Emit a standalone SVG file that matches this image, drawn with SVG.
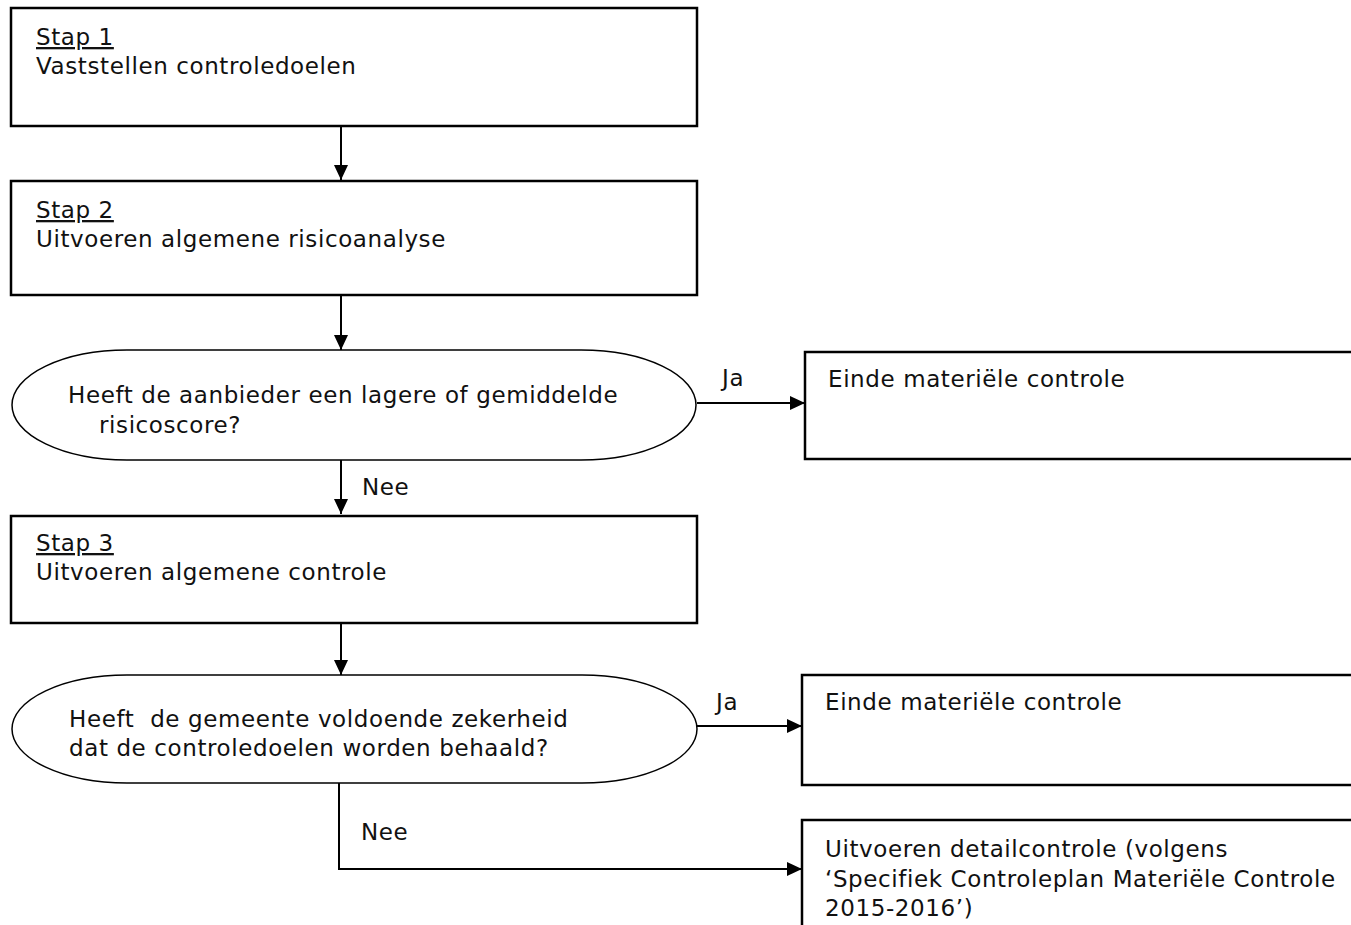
<svg xmlns="http://www.w3.org/2000/svg" width="1351" height="925" viewBox="0 0 1351 925">
<defs>
<style>
.box{fill:#fff;stroke:#000;stroke-width:2.5}
.t{font-family:"DejaVu Sans","Liberation Sans",sans-serif;font-size:23px;fill:#111;letter-spacing:0.6px}
.u{text-decoration:underline}
.c{fill:none;stroke:#000;stroke-width:2}
</style>
<marker id="ah" markerUnits="userSpaceOnUse" markerWidth="16" markerHeight="16" viewBox="0 0 16 16" refX="15" refY="8" orient="auto">
<path d="M0,1 L15,8 L0,15 Z" fill="#000"/>
</marker>
</defs>
<rect width="1351" height="925" fill="#fff"/>
<g id="connectors">
<line class="c" x1="341" y1="126" x2="341" y2="180" marker-end="url(#ah)"/>
<line class="c" x1="341" y1="295" x2="341" y2="350" marker-end="url(#ah)"/>
<line class="c" x1="697" y1="403" x2="805" y2="403" marker-end="url(#ah)"/>
<line class="c" x1="341" y1="460" x2="341" y2="514" marker-end="url(#ah)"/>
<line class="c" x1="341" y1="623" x2="341" y2="675" marker-end="url(#ah)"/>
<line class="c" x1="697" y1="726" x2="802" y2="726" marker-end="url(#ah)"/>
<polyline class="c" points="339,783 339,869 802,869" marker-end="url(#ah)"/>
<text class="t" x="722" y="386">Ja</text>
<text class="t" x="362" y="495">Nee</text>
<text class="t" x="716" y="710">Ja</text>
<text class="t" x="361" y="840">Nee</text>
</g>
<g id="stap1">
<rect class="box" x="11" y="8" width="686" height="118"/>
<text class="t u" x="36" y="45">Stap 1</text>
<text class="t" x="36" y="74">Vaststellen controledoelen</text>
</g>
<g id="stap2">
<rect class="box" x="11" y="181" width="686" height="114"/>
<text class="t u" x="36" y="218">Stap 2</text>
<text class="t" x="36" y="247">Uitvoeren algemene risicoanalyse</text>
</g>
<g id="vraag1">
<rect class="box" x="12" y="350" width="684" height="110" rx="115" ry="55" style="stroke-width:1.5"/>
<text class="t" x="68" y="403">Heeft de aanbieder een lagere of gemiddelde</text>
<text class="t" x="99" y="433">risicoscore?</text>
</g>
<g id="einde1">
<rect class="box" x="805" y="352" width="560" height="107"/>
<text class="t" x="828" y="387">Einde materiële controle</text>
</g>
<g id="stap3">
<rect class="box" x="11" y="516" width="686" height="107"/>
<text class="t u" x="36" y="551">Stap 3</text>
<text class="t" x="36" y="580">Uitvoeren algemene controle</text>
</g>
<g id="vraag2">
<rect class="box" x="12" y="675" width="685" height="108" rx="115" ry="54" style="stroke-width:1.5"/>
<text class="t" x="69" y="727" xml:space="preserve">Heeft  de gemeente voldoende zekerheid</text>
<text class="t" x="69" y="756">dat de controledoelen worden behaald?</text>
</g>
<g id="einde2">
<rect class="box" x="802" y="675" width="560" height="110"/>
<text class="t" x="825" y="710">Einde materiële controle</text>
</g>
<g id="detail">
<rect class="box" x="802" y="820" width="560" height="120"/>
<text class="t" x="825" y="857">Uitvoeren detailcontrole (volgens</text>
<text class="t" x="825" y="887">‘Specifiek Controleplan Materiële Controle</text>
<text class="t" x="825" y="916">2015-2016’)</text>
</g>
</svg>
